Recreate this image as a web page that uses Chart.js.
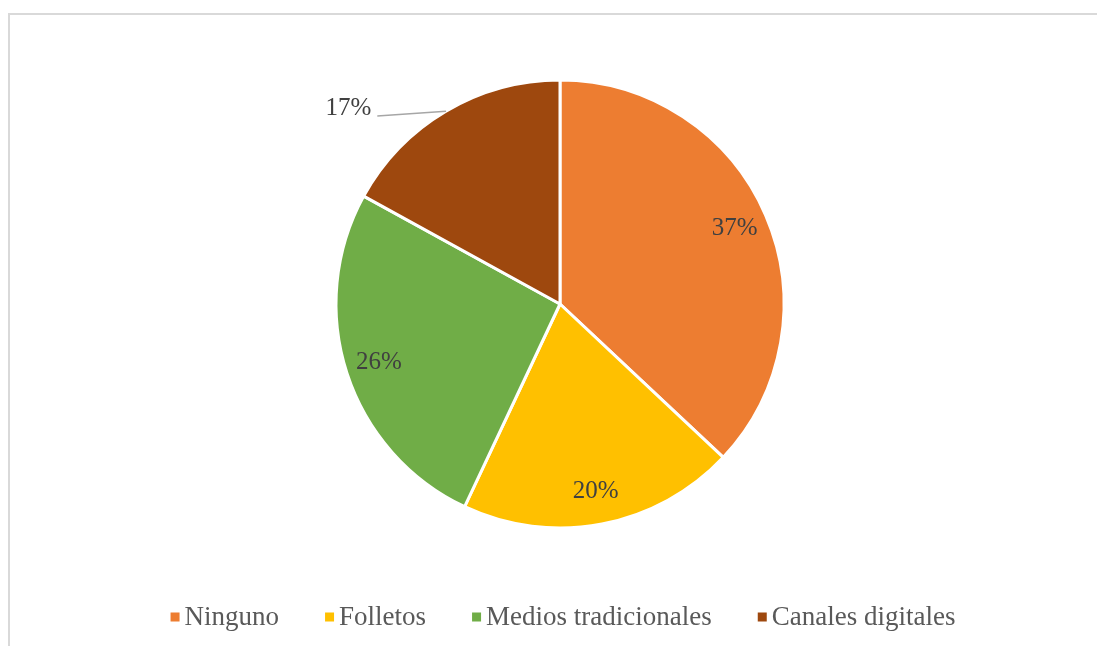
<!DOCTYPE html>
<html>
<head>
<meta charset="utf-8">
<script src="https://cdn.jsdelivr.net/npm/chart.js@4/dist/chart.umd.min.js"></script>
<style>
  html, body { margin: 0; padding: 0; background: #ffffff; overflow: hidden; }
  #wrap { position: relative; width: 1097px; height: 646px; }
  #frame { position: absolute; left: 8px; top: 13px; width: 1200px; height: 800px;
           border-left: 2px solid #d9d9d9; border-top: 2px solid #d9d9d9; box-sizing: border-box; }
  canvas { position: absolute; left: 0; top: 0; }
</style>
</head>
<body>
<div id="wrap">
  <div id="frame"></div>
  <canvas id="chart" width="1097" height="646"></canvas>
</div>
<script>
// Share of respondents by information channel (percent)
const categories = ['Ninguno', 'Folletos', 'Medios tradicionales', 'Canales digitales'];
const shares = [37, 20, 26, 17];
const sliceColors = ['#ED7D31', '#FFC000', '#70AD47', '#9E480E'];

const FONT = "'Liberation Serif', 'Times New Roman', serif";

// Percentage labels inside each slice; flagged slices get an outside label with a leader line
const sliceLabels = {
  id: 'sliceLabels',
  afterDatasetsDraw(chart, args, opts) {
    const ctx = chart.ctx;
    const meta = chart.getDatasetMeta(0);
    const data = chart.data.datasets[0].data;
    ctx.save();
    ctx.font = opts.fontSize + 'px ' + FONT;
    ctx.fillStyle = opts.color;
    ctx.textBaseline = 'middle';
    meta.data.forEach((arc, i) => {
      const p = arc.getProps(['x', 'y', 'startAngle', 'endAngle', 'outerRadius'], true);
      const mid = (p.startAngle + p.endAngle) / 2;
      const text = data[i] + '%';
      if (opts.outside[i]) {
        const sx = p.x + Math.cos(mid) * p.outerRadius;
        const sy = p.y + Math.sin(mid) * p.outerRadius;
        const a2 = mid + opts.leaderShift * Math.PI / 180;
        const ex = p.x + Math.cos(a2) * p.outerRadius * opts.leaderRadius;
        const ey = p.y + Math.sin(a2) * p.outerRadius * opts.leaderRadius;
        ctx.strokeStyle = opts.lineColor;
        ctx.lineWidth = 1.5;
        ctx.beginPath();
        ctx.moveTo(sx, sy);
        ctx.lineTo(ex, ey);
        ctx.stroke();
        ctx.textAlign = 'right';
        ctx.fillText(text, ex - 6, ey - 8);
      } else {
        const r = p.outerRadius * opts.insideRadius;
        ctx.textAlign = 'center';
        ctx.fillText(text, p.x + Math.cos(mid) * r, p.y + Math.sin(mid) * r);
      }
    });
    ctx.restore();
  }
};

// Compact legend row: small square swatch, tight gap, label text
const rowLegend = {
  id: 'rowLegend',
  afterDraw(chart, args, opts) {
    const ctx = chart.ctx;
    const labels = chart.data.labels;
    const colors = chart.data.datasets[0].backgroundColor;
    ctx.save();
    ctx.font = opts.fontSize + 'px ' + FONT;
    ctx.textBaseline = 'middle';
    ctx.textAlign = 'left';
    const widths = labels.map(l => opts.box + opts.boxGap + ctx.measureText(l).width);
    const total = widths.reduce((a, b) => a + b, 0) + opts.itemGap * (labels.length - 1);
    let x = opts.centerX - total / 2;
    const y = opts.y;
    labels.forEach((l, i) => {
      ctx.fillStyle = colors[i];
      ctx.fillRect(x, y - opts.box / 2, opts.box, opts.box);
      ctx.fillStyle = opts.color;
      ctx.fillText(l, x + opts.box + opts.boxGap, y + 1);
      x += widths[i] + opts.itemGap;
    });
    ctx.restore();
  }
};

new Chart(document.getElementById('chart'), {
  type: 'pie',
  data: {
    labels: categories,
    datasets: [{
      data: shares,
      backgroundColor: sliceColors,
      borderColor: '#ffffff',
      borderWidth: 3
    }]
  },
  options: {
    responsive: false,
    animation: false,
    radius: 224,
    layout: { padding: { left: 23, right: 0, top: 0, bottom: 38 } },
    plugins: {
      legend: { display: false },
      tooltip: { enabled: false },
      sliceLabels: {
        fontSize: 25, color: '#404040', lineColor: '#a6a6a6',
        insideRadius: 0.85, leaderRadius: 1.17, leaderShift: -13.6,
        outside: [false, false, false, true]
      },
      rowLegend: {
        fontSize: 27, color: '#595959', box: 9, boxGap: 5, itemGap: 46,
        centerX: 563, y: 617
      }
    }
  },
  plugins: [sliceLabels, rowLegend]
});
</script>
</body>
</html>
